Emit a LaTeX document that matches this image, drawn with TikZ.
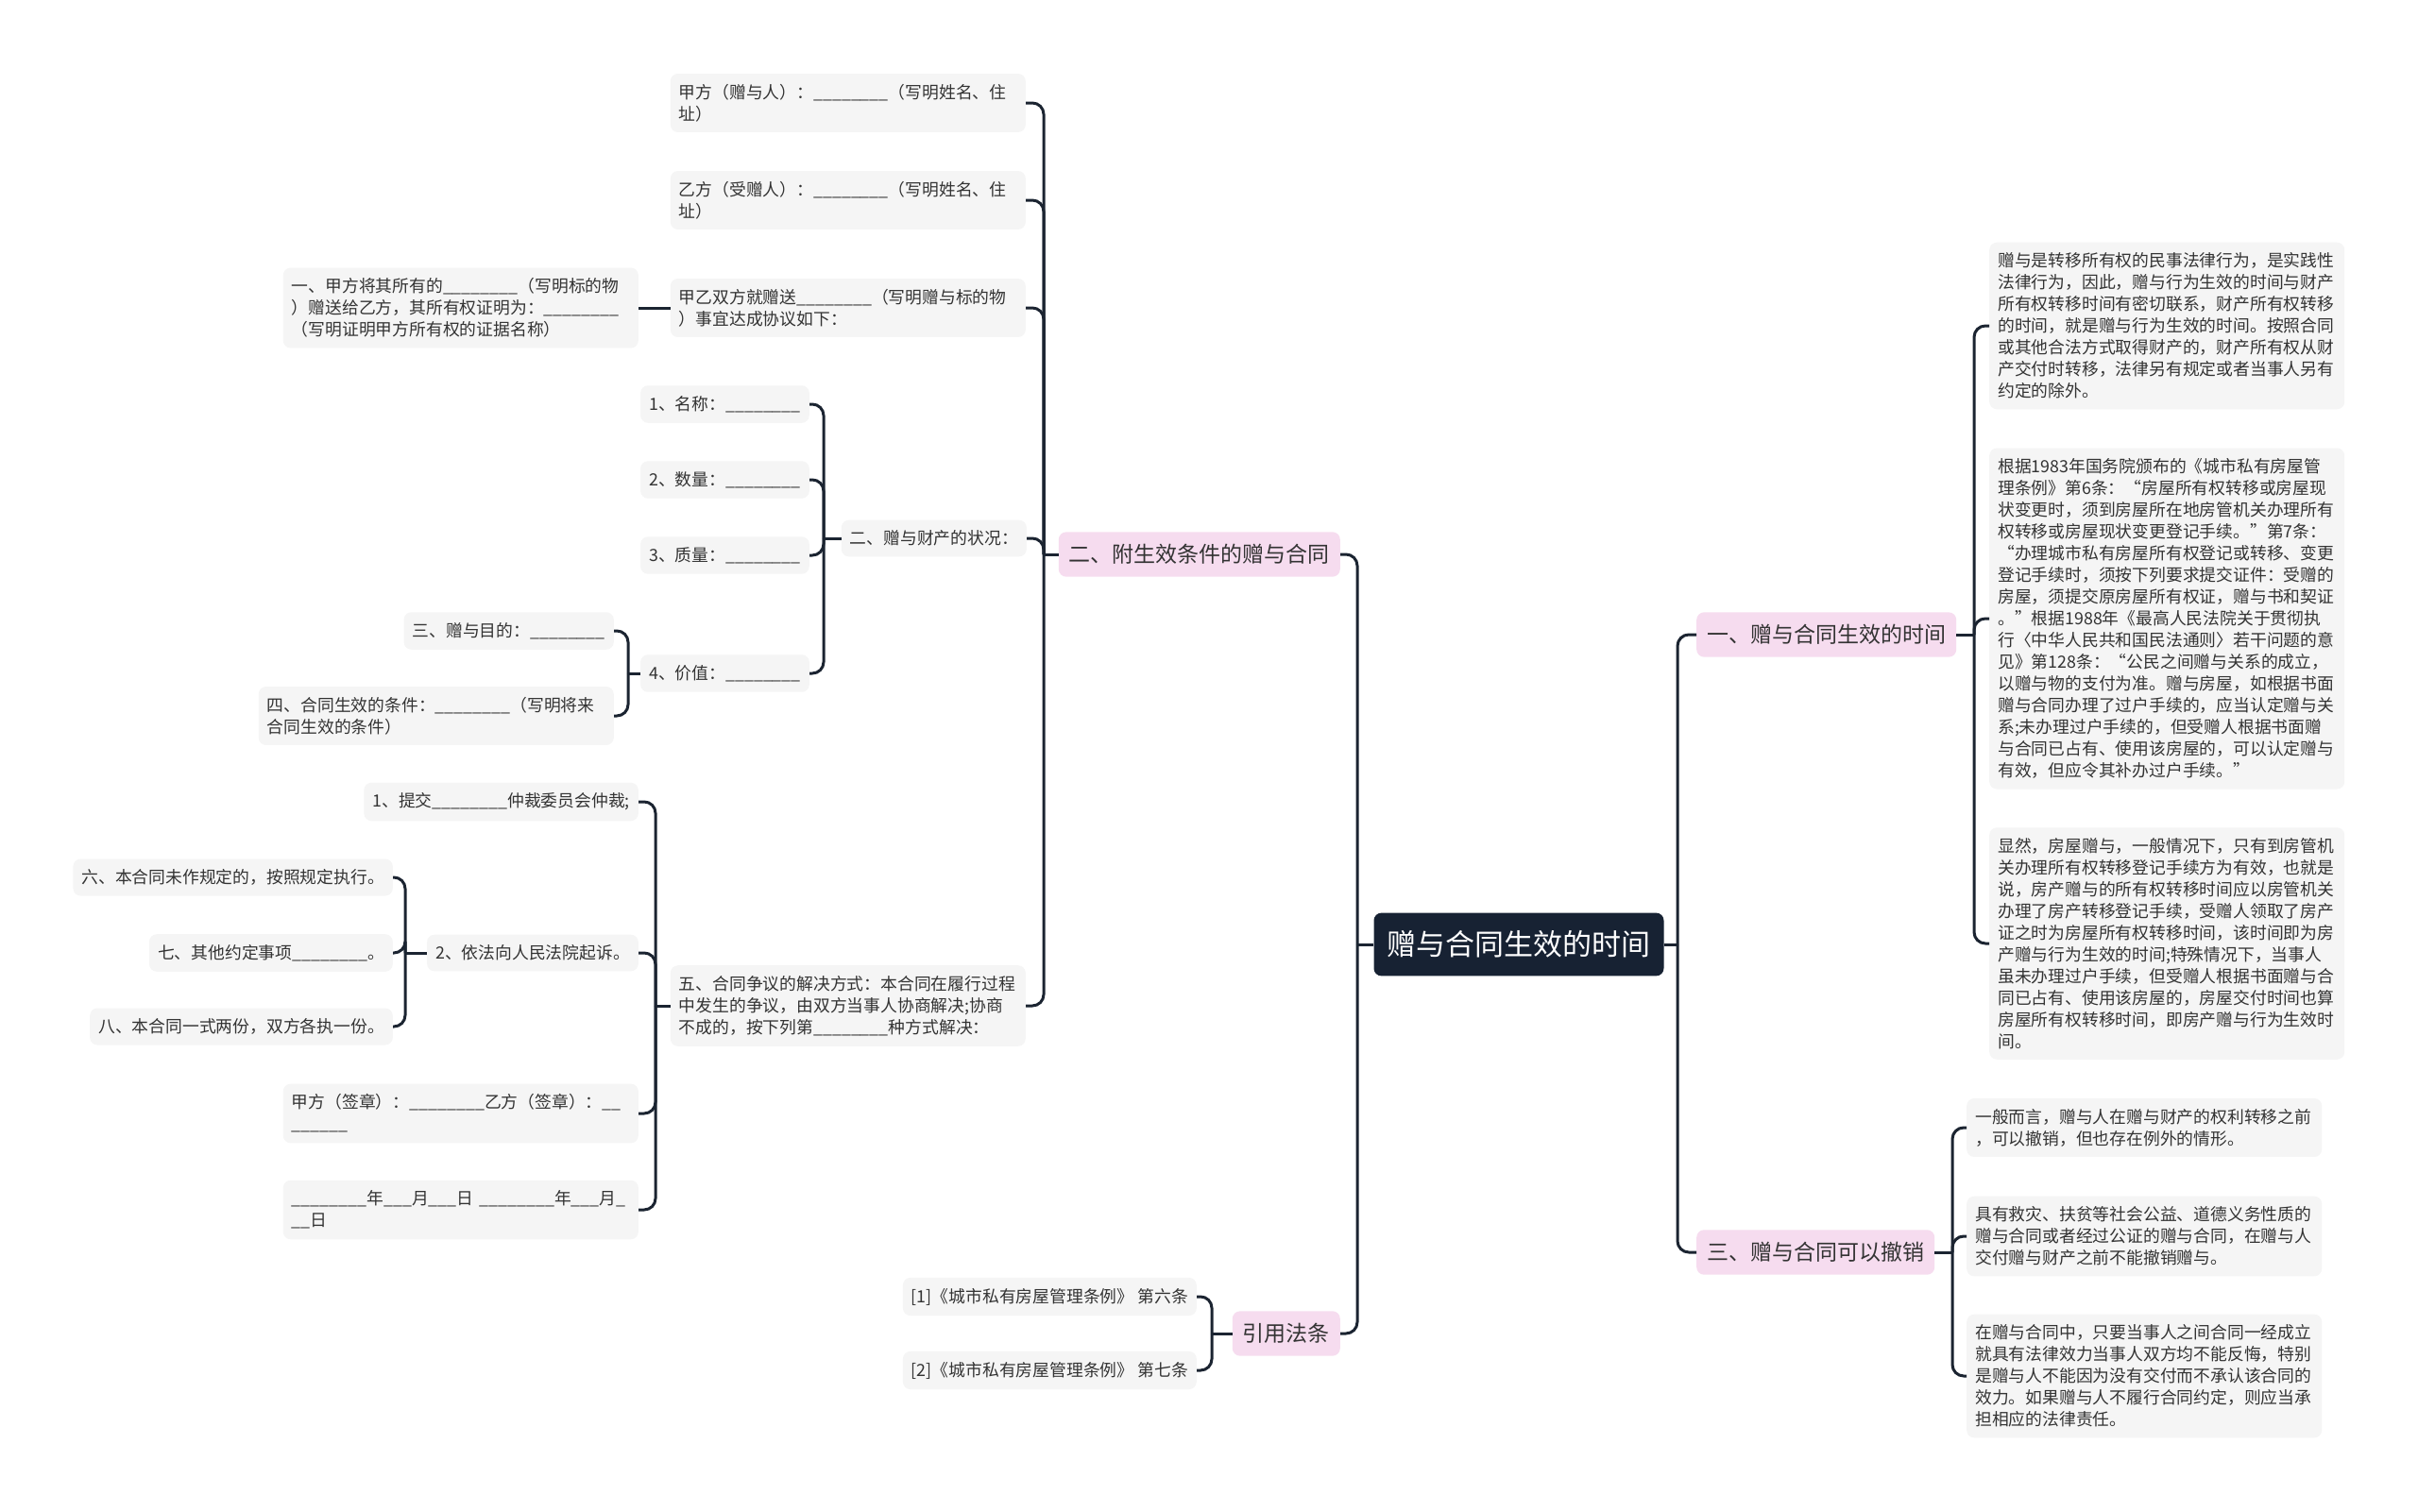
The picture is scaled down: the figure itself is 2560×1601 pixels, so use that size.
\documentclass[tikz,border=0pt]{standalone}
\usepackage{fontspec}
\setmainfont{Noto Sans CJK SC}
\usetikzlibrary{positioning}
\definecolor{linec}{HTML}{1B2431}
\definecolor{rootc}{HTML}{172233}
\definecolor{pinkc}{HTML}{F6DCEF}
\definecolor{leafc}{HTML}{F5F5F5}
\definecolor{txtc}{HTML}{333333}
\newcommand{\blk}{\_\_\_\_\_\_\_\_}
\newcommand{\blks}{\_\_\_}
\begin{document}
\begin{tikzpicture}[x=1pt, y=-1pt,
  every node/.style={font=\fontsize{17.8}{23}\selectfont, text=txtc},
  leaf/.style={rounded corners=8pt, fill=leafc, inner xsep=9pt, inner ysep=11pt},
  leafw/.style={leaf, text width=358pt, align=left},
  branch/.style={rounded corners=8pt, fill=pinkc, inner xsep=11pt, inner ysep=13pt, font=\fontsize{23}{28}\selectfont},
  rootbox/.style={rounded corners=8pt, fill=rootc, text=white, inner xsep=14pt, inner ysep=19pt, font=\fontsize{31}{36}\selectfont},
  conn/.style={draw=linec, line width=3pt, rounded corners=12pt}
]
\fill[white] (0,0) rectangle (2560,1601);
\useasboundingbox (0,0) rectangle (2560,1601);

% root
\node[rootbox] (root) at (1608,1000) {赠与合同生效的时间};

% right branches
\node[branch, anchor=west] (b1) at (1796,672) {一、赠与合同生效的时间};
\node[branch, anchor=west] (b3) at (1796,1326) {三、赠与合同可以撤销};

\node[leafw, anchor=west] (r1a) at (2106,345) {赠与是转移所有权的民事法律行为，是实践性\\
法律行为，因此，赠与行为生效的时间与财产\\
所有权转移时间有密切联系，财产所有权转移\\
的时间，就是赠与行为生效的时间。按照合同\\
或其他合法方式取得财产的，财产所有权从财\\
产交付时转移，法律另有规定或者当事人另有\\
约定的除外。};
\node[leafw, anchor=west] (r1b) at (2106,655) {根据1983年国务院颁布的《城市私有房屋管\\
理条例》第6条：“房屋所有权转移或房屋现\\
状变更时，须到房屋所在地房管机关办理所有\\
权转移或房屋现状变更登记手续。”第7条：\\
“办理城市私有房屋所有权登记或转移、变更\\
登记手续时，须按下列要求提交证件：受赠的\\
房屋，须提交原房屋所有权证，赠与书和契证\\
。”根据1988年《最高人民法院关于贯彻执\\
行〈中华人民共和国民法通则〉若干问题的意\\
见》第128条：“公民之间赠与关系的成立，\\
以赠与物的支付为准。赠与房屋，如根据书面\\
赠与合同办理了过户手续的，应当认定赠与关\\
系;未办理过户手续的，但受赠人根据书面赠\\
与合同已占有、使用该房屋的，可以认定赠与\\
有效，但应令其补办过户手续。”};
\node[leafw, anchor=west] (r1c) at (2106,999) {显然，房屋赠与，一般情况下，只有到房管机\\
关办理所有权转移登记手续方为有效，也就是\\
说，房产赠与的所有权转移时间应以房管机关\\
办理了房产转移登记手续，受赠人领取了房产\\
证之时为房屋所有权转移时间，该时间即为房\\
产赠与行为生效的时间;特殊情况下，当事人\\
虽未办理过户手续，但受赠人根据书面赠与合\\
同已占有、使用该房屋的，房屋交付时间也算\\
房屋所有权转移时间，即房产赠与行为生效时\\
间。};

\node[leafw, anchor=west] (r3a) at (2082,1194) {一般而言，赠与人在赠与财产的权利转移之前\\
，可以撤销，但也存在例外的情形。};
\node[leafw, anchor=west] (r3b) at (2082,1309) {具有救灾、扶贫等社会公益、道德义务性质的\\
赠与合同或者经过公证的赠与合同，在赠与人\\
交付赠与财产之前不能撤销赠与。};
\node[leafw, anchor=west] (r3c) at (2082,1457) {在赠与合同中，只要当事人之间合同一经成立\\
就具有法律效力当事人双方均不能反悔，特别\\
是赠与人不能因为没有交付而不承认该合同的\\
效力。如果赠与人不履行合同约定，则应当承\\
担相应的法律责任。};

% left branches
\node[branch, anchor=east] (b2) at (1419,587) {二、附生效条件的赠与合同};
\node[branch, anchor=east] (cite) at (1419,1412) {引用法条};

\node[leafw, anchor=east] (l1) at (1086,109) {甲方（赠与人）：\blk{}（写明姓名、住\\址）};
\node[leafw, anchor=east] (l2) at (1086,212) {乙方（受赠人）：\blk{}（写明姓名、住\\址）};
\node[leafw, anchor=east] (l3) at (1086,326) {甲乙双方就赠送\blk{}（写明赠与标的物\\）事宜达成协议如下：};
\node[leafw, anchor=east] (l3a) at (676,326) {一、甲方将其所有的\blk{}（写明标的物\\）赠送给乙方，其所有权证明为：\blk\\（写明证明甲方所有权的证据名称）};
\node[leaf, anchor=east] (l4) at (1087,570) {二、赠与财产的状况：};
\node[leaf, anchor=east] (n1) at (857,428) {1、名称：\blk};
\node[leaf, anchor=east] (n2) at (857,508) {2、数量：\blk};
\node[leaf, anchor=east] (n3) at (857,588) {3、质量：\blk};
\node[leaf, anchor=east] (n4) at (857,713) {4、价值：\blk};
\node[leaf, anchor=east] (p3) at (650,668) {三、赠与目的：\blk};
\node[leafw, anchor=east] (p4) at (650,758) {四、合同生效的条件：\blk{}（写明将来\\合同生效的条件）};
\node[leafw, anchor=east] (l5) at (1086,1065) {五、合同争议的解决方式：本合同在履行过程\\中发生的争议，由双方当事人协商解决;协商\\不成的，按下列第\blk{}种方式解决：};
\node[leaf, anchor=east] (q1) at (676,849) {1、提交\blk{}仲裁委员会仲裁;};
\node[leaf, anchor=east] (q2) at (676,1009) {2、依法向人民法院起诉。};
\node[leafw, anchor=east] (q3) at (676,1179) {甲方（签章）：\blk{}乙方（签章）：\_\_\\\_\_\_\_\_\_};
\node[leafw, anchor=east] (q4) at (676,1281) {\blk{}年\blks{}月\blks{}日 \blk{}年\blks{}月\_\\\_\_日};
\node[leaf, anchor=east] (s6) at (416,929) {六、本合同未作规定的，按照规定执行。};
\node[leaf, anchor=east] (s7) at (416,1009) {七、其他约定事项\blk{}。};
\node[leaf, anchor=east] (s8) at (416,1087) {八、本合同一式两份，双方各执一份。};
\node[leaf, anchor=east] (c1) at (1267,1373) {[1]《城市私有房屋管理条例》 第六条};
\node[leaf, anchor=east] (c2) at (1267,1451) {[2]《城市私有房屋管理条例》 第七条};

% spine points
\coordinate (rootR) at (1776,1000);
\coordinate (rootL) at (1437,1000);
\coordinate (b1R) at (2090,672);
\coordinate (b3R) at (2067,1326);
\coordinate (b2L) at (1105,587);
\coordinate (l4L) at (872,570);
\coordinate (n4L) at (665,713);
\coordinate (l5L) at (694,1065);
\coordinate (q2L) at (429,1009);
\coordinate (citeL) at (1283,1412);

% connectors
\draw[conn] (root.east) -- (rootR);
\draw[conn] (root.west) -- (rootL);
\foreach \c in {b1,b3} \draw[conn] (rootR) |- (\c.west);
\foreach \c in {b2,cite} \draw[conn] (rootL) |- (\c.east);
\draw[conn] (b1.east) -- (b1R);
\foreach \c in {r1a,r1b,r1c} \draw[conn] (b1R) |- (\c.west);
\draw[conn] (b3.east) -- (b3R);
\foreach \c in {r3a,r3b,r3c} \draw[conn] (b3R) |- (\c.west);
\draw[conn] (b2.west) -- (b2L);
\foreach \c in {l1,l2,l3,l4,l5} \draw[conn] (b2L) |- (\c.east);
\draw[conn] (l3.west) -- (l3a.east);
\draw[conn] (l4.west) -- (l4L);
\foreach \c in {n1,n2,n3,n4} \draw[conn] (l4L) |- (\c.east);
\draw[conn] (n4.west) -- (n4L);
\foreach \c in {p3,p4} \draw[conn] (n4L) |- (\c.east);
\draw[conn] (l5.west) -- (l5L);
\foreach \c in {q1,q2,q3,q4} \draw[conn] (l5L) |- (\c.east);
\draw[conn] (q2.west) -- (q2L);
\foreach \c in {s6,s7,s8} \draw[conn] (q2L) |- (\c.east);
\draw[conn] (cite.west) -- (citeL);
\foreach \c in {c1,c2} \draw[conn] (citeL) |- (\c.east);
\end{tikzpicture}
\end{document}
